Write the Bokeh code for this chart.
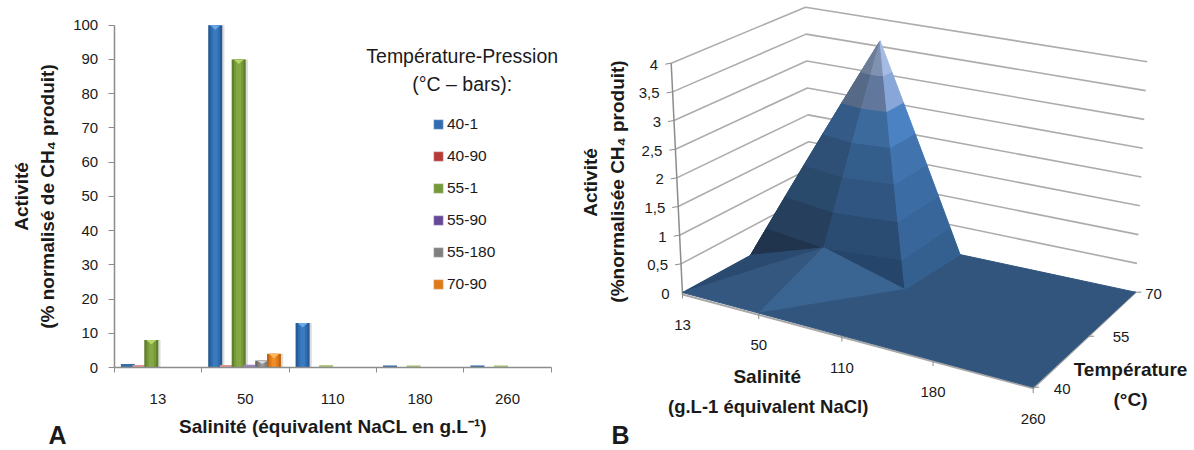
import math
import numpy as np
from bokeh.core.properties import value
from bokeh.embed import file_html
from bokeh.layouts import row, column
from bokeh.models import FixedTicker, Label, Legend, LegendItem, Range1d
from bokeh.plotting import figure
from bokeh.resources import INLINE

FONT = "Liberation Sans"
TXT = "#1a1a1a"
AXC = "#8c8c8c"

# ---------- Panel A data ----------
salinity = ["13", "50", "110", "180", "260"]
series_names = ["40-1", "40-90", "55-1", "55-90", "55-180", "70-90"]
v_40_1 = [1, 100, 13, 0.6, 0.6]
v_40_90 = [0.7, 0.7, 0, 0, 0]
v_55_1 = [8, 90, 0.7, 0.6, 0.6]
v_55_90 = [0, 0.8, 0, 0, 0]
v_55_180 = [0, 2, 0, 0, 0]
v_70_90 = [0, 4, 0, 0, 0]
series_values = [v_40_1, v_40_90, v_55_1, v_55_90, v_55_180, v_70_90]
y_ticks = [0, 10, 20, 30, 40, 50, 60, 70, 80, 90, 100]

# ---------- Panel B data ----------
surf_salinity = ["13", "50", "110", "180", "260"]
surf_temperature = ["40", "55", "70"]
z_t40 = [0, 0, 0, 0, 0]
z_t55 = [0, 0.45, 0.05, 0, 0]
z_t70 = [0, 3.6, 0, 0, 0]
z_ticks = [0, 0.5, 1, 1.5, 2, 2.5, 3, 3.5, 4]
z_labels = ["0", "0,5", "1", "1,5", "2", "2,5", "3", "3,5", "4"]

# ---------- Panel A ----------
pal = [
    ("#245a96", "#2f6db0", "#3a7abf", "#6aa8e8", "#3a6ea8"),
    ("#8f2a28", "#b83a38", "#c94c4a", "#e67b78", "#dc9492"),
    ("#5f7f2a", "#76993a", "#86a844", "#b6d66a", "#a9c474"),
    ("#4f3a78", "#66489a", "#7a5cae", "#a588d0", "#9a84bc"),
    ("#6a6a6a", "#808080", "#959595", "#d8d8d8", "#999999"),
    ("#bf6510", "#df7a18", "#ef8c28", "#ffb860", "#e8a060"),
]
SPLIT = 577
H = 450
AX_L = 113.7     # pixel column of the y axis
AX_B = 367.0     # pixel row of the x axis
u_x = 5 / 437.0
u_y = 100 / 342.3
a = figure(width=SPLIT, height=H,
           x_range=Range1d(-AX_L * u_x, (SPLIT - AX_L) * u_x),
           y_range=Range1d((AX_B - H) * u_y, AX_B * u_y),
           toolbar_location=None, output_backend="svg", align="start",
           min_border_left=0, min_border_right=0, min_border_top=0, min_border_bottom=0)
a.outline_line_color = None
a.grid.visible = False
a.xaxis.fixed_location = 0
a.yaxis.fixed_location = 0
a.xaxis.bounds = (0, 5)
a.yaxis.bounds = (0, 100)

STEP = 0.1344
BW = 0.16
main_rs = []
for k, (vals, c) in enumerate(zip(series_values, pal)):
    off = (k - 2.5) * STEP - 0.008
    xs = [i + 0.5 + off for i in range(5)]
    big = [(x, v) for x, v in zip(xs, vals) if v >= 1.5]
    tiny = [(x, v) for x, v in zip(xs, vals) if 0 < v < 1.5]
    if big:
        bx, bv = zip(*big)
        bx = list(bx); bv = list(bv)
        a.vbar(x=[x + 0.012 for x in bx], top=bv, width=BW * 1.16, bottom=0, fill_color="#999999", fill_alpha=0.35, line_color=None)
        a.vbar(x=bx, top=bv, width=BW, bottom=0, fill_color=c[0], line_color=None)
        a.vbar(x=bx, top=bv, width=BW * 0.68, bottom=0, fill_color=c[1], line_color=None)
        a.vbar(x=bx, top=bv, width=BW * 0.34, bottom=0, fill_color=c[2], line_color=None)
        a.patches([[x - BW * 0.36, x + BW * 0.36, x] for x in bx],
                  [[v, v, v - min(1.3, v * 0.5)] for v in bv],
                  fill_color=c[3], line_color=None)
    if tiny:
        tx, tv = zip(*tiny)
        a.vbar(x=list(tx), top=list(tv), width=BW, bottom=0, fill_color=c[4], line_color=None)
    main_rs.append(a.vbar(x=[-50], top=[-5000], bottom=[-5000], width=BW, fill_color=c[1], line_color="#e0e0e0", line_width=0.5))

leg = Legend(items=[LegendItem(label=n, renderers=[r]) for n, r in zip(series_names, main_rs)],
             location=(432, H - AX_B + 73), orientation="vertical", background_fill_alpha=0, border_line_color=None,
             glyph_width=12, glyph_height=12, label_standoff=3, spacing=12, padding=0, margin=0,
             label_height=20, label_text_font=FONT, label_text_font_size="15.5px", label_text_color=TXT)
a.add_layout(leg)
a.scatter(x=[(437.7 - AX_L) * u_x] * 6, y=[(AX_B - 122 - 32 * k) * u_y for k in range(6)],
          marker="inverted_triangle", size=7, fill_color=[c[3] for c in pal], line_color=None, level="overlay")

a.xaxis.ticker = FixedTicker(ticks=[i + 0.5 for i in range(5)], minor_ticks=[0, 1, 2, 3, 4, 5])
a.xaxis.major_label_overrides = {i + 0.5: s for i, s in enumerate(salinity)}
a.xaxis.major_tick_line_color = None
a.xaxis.major_tick_in = 0
a.xaxis.minor_tick_in = 0
a.xaxis.minor_tick_out = 5
a.xaxis.minor_tick_line_color = AXC
a.xaxis.axis_line_color = AXC
a.xaxis.axis_line_width = 1.5
a.xaxis.major_label_standoff = 20
a.xaxis.major_label_text_font = FONT
a.xaxis.major_label_text_font_size = "15px"
a.xaxis.major_label_text_color = TXT
a.xaxis.axis_label = "Salinité (équivalent NaCL en g.L⁻¹)"
a.xaxis.axis_label_text_font = FONT
a.xaxis.axis_label_text_font_style = "bold"
a.xaxis.axis_label_text_font_size = "19px"
a.xaxis.axis_label_text_color = TXT
a.xaxis.axis_label_standoff = 9

a.yaxis.ticker = FixedTicker(ticks=y_ticks)
a.yaxis.major_tick_in = 0
a.yaxis.major_tick_out = 6
a.yaxis.minor_tick_line_color = None
a.yaxis.major_tick_line_color = AXC
a.yaxis.axis_line_color = AXC
a.yaxis.axis_line_width = 1.5
a.yaxis.major_label_standoff = 10
a.yaxis.major_label_text_font = FONT
a.yaxis.major_label_text_font_size = "15px"
a.yaxis.major_label_text_color = TXT
a.yaxis.axis_label = "Activité\n(% normalisé de CH₄ produit)"
a.yaxis.axis_label_text_font = FONT
a.yaxis.axis_label_text_font_style = "bold"
a.yaxis.axis_label_text_font_size = "19px"
a.yaxis.axis_label_text_line_height = 1.25
a.yaxis.axis_label_text_color = TXT
a.yaxis.axis_label_standoff = 12

for txt_, ay in [("Température-Pression", 55), ("(°C – bars):", 83)]:
    a.add_layout(Label(x=(461.7 - AX_L) * u_x, y=(AX_B - ay) * u_y, text=txt_, text_align="center", text_baseline="middle",
                       text_font=FONT, text_font_size="19.5px", text_color=TXT))
a.add_layout(Label(x=(57 - AX_L) * u_x, y=(AX_B - 434) * u_y, text="A", text_align="center", text_baseline="middle",
                   text_font=FONT, text_font_style="bold", text_font_size="25px", text_color=TXT))

# ---------- Panel B ----------
X0 = SPLIT
b = figure(width=1194 - SPLIT, height=H, x_range=Range1d(X0, 1194), y_range=Range1d(H, 0),
           toolbar_location=None, output_backend="svg", align="start",
           min_border_left=0, min_border_right=0, min_border_top=0, min_border_bottom=0)
b.outline_line_color = None
b.grid.visible = False
b.axis.visible = False


def homography(pts):
    src = [(0, 0), (1, 0), (1, 1), (0, 1)]
    A, B = [], []
    for (u, v), (x, y) in zip(src, pts):
        A.append([u, v, 1, 0, 0, 0, -u * x, -v * x]); B.append(x)
        A.append([0, 0, 0, u, v, 1, -u * y, -v * y]); B.append(y)
    h = np.linalg.solve(np.array(A, float), np.array(B, float))
    return np.append(h, 1).reshape(3, 3)


FLOOR = homography([(682, 292), (1032.7, 386.7), (1135, 291.7), (810, 222)])
TOP = homography([(670.7, 62.7), (1036, 139), (1146.7, 61.3), (805, 6.7)])


def apply(H_, u, v):
    w = H_ @ np.array([u, v, 1.0])
    return w[0] / w[2], w[1] / w[2]


def proj(u, v, z):
    f = np.array(apply(FLOOR, u, v))
    t = np.array(apply(TOP, u, v))
    return tuple(f + (t - f) * z / 4.0)


Z = [z_t40, z_t55, z_t70]
NI = len(surf_salinity) - 1
NJ = len(surf_temperature) - 1


def gp(i, j):
    return (i / NI, j / NJ, Z[j][i])


def clip(poly, lo, hi):
    def cut(pts, level, keep_above):
        out = []
        for n in range(len(pts)):
            p, q = pts[n], pts[(n + 1) % len(pts)]
            pin = p[2] >= level if keep_above else p[2] <= level
            qin = q[2] >= level if keep_above else q[2] <= level
            if pin:
                out.append(p)
            if pin != qin:
                t = (level - p[2]) / (q[2] - p[2])
                out.append(tuple(p[m] + (q[m] - p[m]) * t for m in range(3)))
        return out
    pts = cut(poly, lo, True)
    if pts:
        pts = cut(pts, hi, False)
    return pts


TONES = {
    "left": ["#20344d", "#253f5d", "#2a4a6c", "#2e5076", "#345b88", "#566a88", "#6c7d98"],
    "mid": ["#25466a", "#2a4c72", "#2f5580", "#335d8b", "#3c6a9c", "#61779c", "#7f92b2"],
    "right": ["#33608f", "#38669a", "#3c6ca4", "#4173ae", "#4b82c4", "#88a6d8", "#a6bbe4"],
    "fl_dark": ["#2a4a70"] * 7,
    "fl_a": ["#34577f"] * 7,
    "fl_lit": ["#3a6491"] * 7,
    "fl_b": ["#31557d"] * 7,
}
tris = [
    ((0, 1), (1, 2), (0, 2), "left"),
    ((0, 1), (1, 1), (1, 2), "left"),
    ((2, 1), (3, 1), (3, 2), "fl_b"),
    ((2, 1), (3, 2), (2, 2), "fl_b"),
    ((3, 1), (4, 1), (4, 2), "fl_b"),
    ((3, 1), (4, 2), (3, 2), "fl_b"),
    ((1, 1), (2, 1), (1, 2), "mid"),
    ((2, 1), (2, 2), (1, 2), "right"),
    ((0, 0), (1, 1), (0, 1), "fl_dark"),
    ((0, 0), (1, 0), (1, 1), "fl_a"),
    ((1, 0), (2, 1), (1, 1), "fl_lit"),
    ((1, 0), (2, 0), (2, 1), "fl_b"),
    ((2, 0), (3, 0), (3, 1), "fl_b"),
    ((2, 0), (3, 1), (2, 1), "fl_b"),
    ((3, 0), (4, 0), (4, 1), "fl_b"),
    ((3, 0), (4, 1), (3, 1), "fl_b"),
]

for z in z_ticks[1:]:
    p0, p1, p2 = proj(0, 0, z), proj(0, 1, z), proj(1, 1, z)
    b.line([p0[0], p1[0], p2[0]], [p0[1], p1[1], p2[1]], line_color="#a3a3a3", line_width=1.6, line_alpha=0.9)
    b.line([p0[0] - 6, p0[0]], [p0[1] + 1, p0[1]], line_color=AXC, line_width=1)
p0, p4 = proj(0, 0, 0), proj(0, 0, 4)
b.line([p0[0], p4[0]], [p0[1] + 2, p4[1]], line_color=AXC, line_width=1.5)

fa, fb, fc = proj(0, 0, 0), proj(1, 0, 0), proj(1, 1, 0)
b.line([fa[0], fb[0], fc[0]], [fa[1] + 2, fb[1] + 1, fc[1]], line_color="#a8a8a8", line_width=2)

BAND = 0.525
BASE = -0.075
pxs, pys, cols = [], [], []
for p, q, r, tone in tris:
    poly = [gp(*p), gp(*q), gp(*r)]
    for band in range(7):
        lo, hi = BASE + band * BAND, BASE + (band + 1) * BAND
        pts = clip(poly, lo, hi)
        if len(pts) >= 3:
            xy = [proj(*pt) for pt in pts]
            pxs.append([c[0] for c in xy]); pys.append([c[1] for c in xy]); cols.append(TONES[tone][band])
b.patches(pxs, pys, fill_color=cols, line_color=cols, line_width=1)


def txt(xs, ys, texts, size="15px", bold=False, align="center", angle=0):
    b.text(xs, ys, text=texts, text_font=value(FONT), text_font_size=size, text_color=TXT,
           text_align=align, text_baseline="middle", angle=angle,
           text_font_style="bold" if bold else "normal")


zp = [proj(0, 0, z) for z in z_ticks]
txt([c[0] - 13 for c in zp], [c[1] + 1.5 for c in zp], z_labels, align="right")
sp = [proj(i / NI, 0, 0) for i in range(NI + 1)]
txt([c[0] for c in sp], [c[1] + 32 for c in sp], surf_salinity)
b.segment([c[0] for c in sp], [c[1] for c in sp], [c[0] for c in sp], [c[1] + 6 for c in sp], line_color=AXC, line_width=1)
tp = [proj(1, j / NJ, 0) for j in range(NJ + 1)]
offs = [29, 33, 18]
txt([c[0] + o for c, o in zip(tp, offs)], [c[1] + d for c, d in zip(tp, [1.5, 1, 1.5])], surf_temperature)
b.segment([c[0] for c in tp], [c[1] for c in tp], [c[0] + 6 for c in tp], [c[1] for c in tp], line_color=AXC, line_width=1)

txt([766.7], [376], ["Salinité"], size="19px", bold=True)
txt([767.7], [406], ["(g.L-1 équivalent NaCl)"], size="18.5px", bold=True)
txt([1130], [369], ["Température"], size="19px", bold=True)
txt([1130], [399], ["(°C)"], size="19px", bold=True)
txt([589.5], [182], ["Activité"], size="19px", bold=True, angle=math.pi / 2)
txt([616.7], [181], ["(%normalisée CH₄ produit)"], size="19px", bold=True, angle=math.pi / 2)
txt([620], [434], ["B"], size="25px", bold=True)

page = row(column(a), column(b), spacing=0)
open("out.html", "w").write(file_html(page, INLINE))
